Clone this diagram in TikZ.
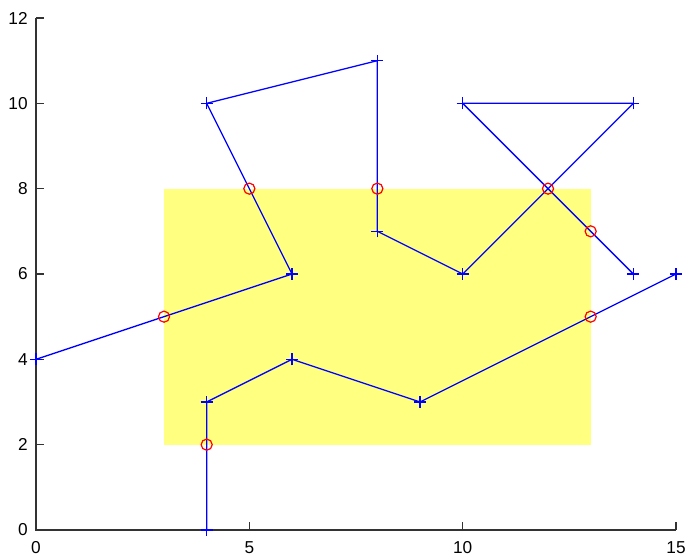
\documentclass[tikz,border=0pt]{standalone}
\usepackage{fontspec}
\setmainfont{Liberation Sans}
\usetikzlibrary{positioning}
\definecolor{lineblue}{RGB}{0,0,255}
\definecolor{hitred}{RGB}{255,0,0}
\definecolor{boxyellow}{RGB}{255,255,128}
\tikzset{
  axisln/.style ={draw=black!80, line width=0.7pt},
  tickln/.style ={draw=black!80, line width=0.7pt},
  trace/.style  ={draw=lineblue, line width=0.85pt, line join=round},
  hit/.style    ={draw=hitred, line width=0.8pt},
  ticklbl/.style={font=\fontsize{11.5}{13}\selectfont, inner sep=0pt},
  plusmark/.pic ={\draw[trace] (-0.14,0) -- (0.14,0) (0,-0.14) -- (0,0.14);},
}

\begin{document}
\begin{tikzpicture}[x=1cm, y=1cm]
  \useasboundingbox (-0.844,-0.656) rectangle (15.281,12.422);

  % clipping window
  \fill[boxyellow] (3,2) rectangle (13,8);

  % axes
  \draw[axisln] (0,12) -- (0,0) -- (15,0);
  \foreach \yv in {2,4,...,12}
    \draw[tickln] (0,\yv) -- (0.18,\yv);
  \foreach \xv in {5,10,15}
    \draw[tickln] (\xv,0) -- (\xv,0.18);
  \foreach \yv in {0,2,...,12}
    \node[ticklbl, anchor=east] (yl\yv) at (-0.19,\yv) {\yv};
  \foreach \xv in {0,5,10,15}
    \node[ticklbl, anchor=north] (xl\xv) at (\xv,-0.27) {\xv};

  % first polyline
  \coordinate (a1) at (0,4);
  \coordinate (a2) at (6,6);
  \coordinate (a3) at (4,10);
  \coordinate (a4) at (8,11);
  \coordinate (a5) at (8,7);
  \coordinate (a6) at (10,6);
  \coordinate (a7) at (14,10);
  \coordinate (a8) at (10,10);
  \coordinate (a9) at (14,6);
  \draw[trace] (a1) -- (a2) -- (a3) -- (a4) -- (a5) -- (a6) -- (a7) -- (a8) -- (a9);

  % second polyline
  \coordinate (b1) at (4,0);
  \coordinate (b2) at (4,3);
  \coordinate (b3) at (6,4);
  \coordinate (b4) at (9,3);
  \coordinate (b5) at (15,6);
  \draw[trace] (b1) -- (b2) -- (b3) -- (b4) -- (b5);

  \foreach \p in {a1,a2,a3,a4,a5,a6,a7,a8,a9,b1,b2,b3,b4,b5}
    \pic at (\p) {plusmark};

  % crossings with the window
  \foreach \cx/\cy in {3/5, 5/8, 8/8, 12/8, 13/7, 13/5, 4/2}
    \draw[hit] (\cx,\cy) circle (0.13);
\end{tikzpicture}
\end{document}
